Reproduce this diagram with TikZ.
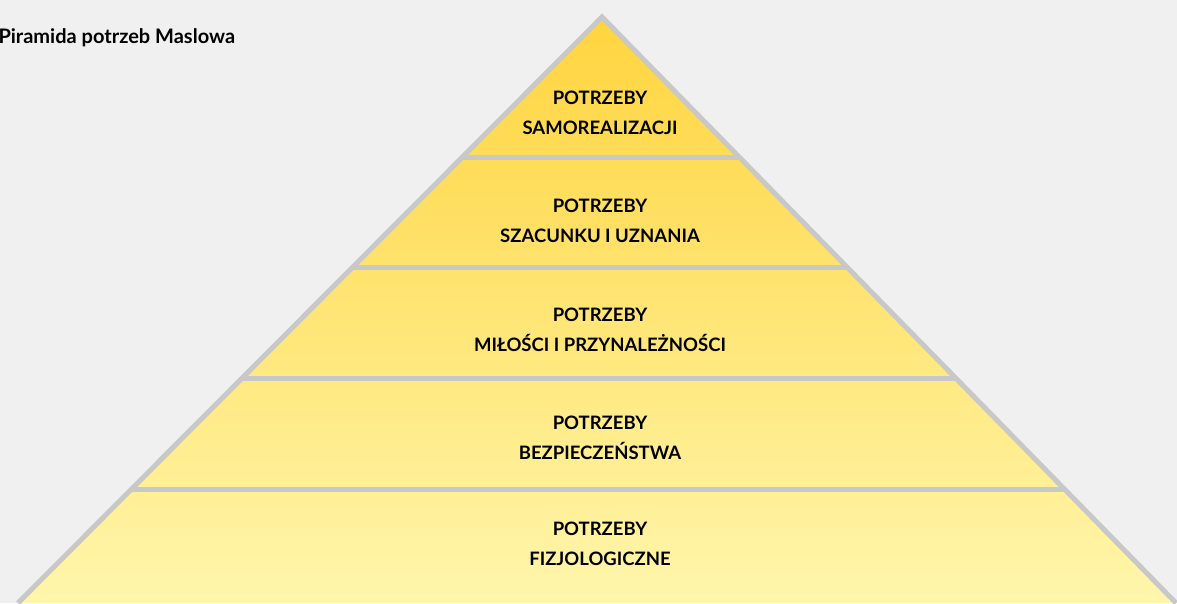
\documentclass[tikz,border=0pt]{standalone}
\usepackage{fontspec}
\setmainfont{Lato}
\usetikzlibrary{calc}

\definecolor{pagebg}{RGB}{240,240,240}
\definecolor{edgegray}{RGB}{200,200,200}
\definecolor{pyrtop}{RGB}{255,212,62}
\definecolor{pyrbottom}{RGB}{255,246,172}

\begin{document}
\begin{tikzpicture}[
    x=1pt, y=-1pt,
    level/.style={align=center, font=\fontsize{18.5}{30.5}\selectfont\bfseries, text=black},
    edge/.style={draw=edgegray, line width=5pt},
    title/.style={anchor=west, font=\fontsize{20}{24}\selectfont\bfseries}
]

\fill[pagebg] (0,0) rectangle (1177,603);
\useasboundingbox (0,0) rectangle (1177,603);

\coordinate (apex) at (602,17);
\coordinate (bl) at (18,603);
\coordinate (br) at (1176,603);

\shade[top color=pyrtop, bottom color=pyrbottom] (apex) -- (bl) -- (br) -- cycle;

% separators between the levels
\draw[edge] ($(apex)!0.2406!(bl)$) -- ($(apex)!0.2406!(br)$);
\draw[edge] ($(apex)!0.4283!(bl)$) -- ($(apex)!0.4283!(br)$);
\draw[edge] ($(apex)!0.6177!(bl)$) -- ($(apex)!0.6177!(br)$);
\draw[edge] ($(apex)!0.8055!(bl)$) -- ($(apex)!0.8055!(br)$);

\draw[edge, line join=miter] (bl) -- (apex) -- (br);

\node[level] (selfact) at (600,113) {POTRZEBY\\SAMOREALIZACJI};
\node[level] (esteem) at (600,221) {POTRZEBY\\SZACUNKU I UZNANIA};
\node[level] (love) at (600,330) {POTRZEBY\\MIŁOŚCI I PRZYNALEŻNOŚCI};
\node[level] (safety) at (600,438) {POTRZEBY\\BEZPIECZEŃSTWA};
\node[level] (physio) at (600,544) {POTRZEBY\\FIZJOLOGICZNE};

\node[title] (heading) at (-5,38) {Piramida potrzeb Maslowa};

\end{tikzpicture}
\end{document}
